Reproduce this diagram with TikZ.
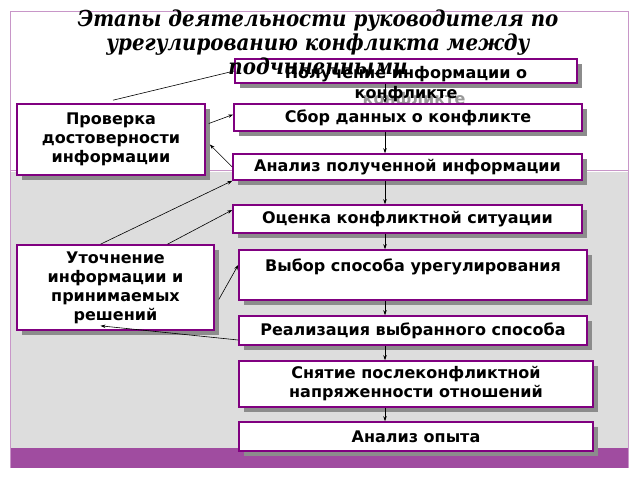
\documentclass[tikz,border=0pt]{standalone}
\usepackage{fontspec}
\setmainfont{DejaVu Sans}
\newfontfamily\titlefont{DejaVu Serif Condensed}
\usetikzlibrary{arrows.meta,shadows}

\definecolor{boxline}{RGB}{128,0,128}
\definecolor{frameline}{RGB}{200,150,200}
\definecolor{barfill}{RGB}{160,76,160}
\definecolor{panelfill}{RGB}{221,221,221}

\begin{document}
\begin{tikzpicture}[x=1pt,y=-1pt,
  stagebox/.style={draw=boxline,line width=1.6pt,fill=white,inner sep=0pt,
    drop shadow={shadow xshift=5pt,shadow yshift=-5pt,fill=black!45,opacity=1},
    font=\fontsize{16}{19}\selectfont\bfseries,align=center},
  boxtext/.style={font=\fontsize{16}{20}\selectfont\bfseries,align=center,inner sep=0pt},
  link/.style={-{Stealth[length=5pt,width=3.5pt]},line width=0.6pt}]
  \useasboundingbox (0,0) rectangle (640,480);
  \fill[white] (0,0) rectangle (640,480);
  \fill[panelfill] (10,172) rectangle (628,448);
  \fill[barfill] (10,448) rectangle (628,468);
  \draw[frameline] (10,468) -- (10,11) -- (628,11) -- (628,468);
  \draw[frameline] (10,170) -- (628,170);

  \coordinate (axis) at (385,0);

  \node[stagebox,minimum width=342pt,minimum height=24pt] (get) at (406,71) {};
  \node[boxtext,text=black!40] (getshade) at (414,100) {конфликте};
  \node[boxtext] (gettext) at (406,84) {Получение информации о\\конфликте};
  \node[stagebox,minimum width=348pt,minimum height=27pt] (collect) at (408,117.5) {Сбор данных о конфликте};
  \node[stagebox,minimum width=349pt,minimum height=26pt] (analyse) at (407.5,167) {Анализ полученной информации};
  \node[stagebox,minimum width=349pt,minimum height=28pt] (assess) at (407.5,219) {Оценка конфликтной ситуации};
  \node[stagebox,minimum width=348pt,minimum height=50pt] (choose) at (413,275) {Выбор способа урегулирования\\\mbox{}};
  \node[stagebox,minimum width=348pt,minimum height=29pt] (implement) at (413,330.5) {Реализация выбранного способа};
  \node[stagebox,minimum width=354pt,minimum height=46pt] (relieve) at (416,384) {Снятие послеконфликтной\\напряженности отношений};
  \node[stagebox,minimum width=354pt,minimum height=29pt] (review) at (416,436.5) {Анализ опыта};

  \node[stagebox,minimum width=188pt,minimum height=71pt] (check) at (111,139.5) {Проверка\\достоверности\\информации};
  \node[stagebox,minimum width=197pt,minimum height=85pt] (clarify) at (115.5,287.5) {Уточнение\\информации и\\принимаемых\\решений};

  \draw[link] (get.south -| axis) -- (collect.north -| axis);
  \draw[link] (collect.south -| axis) -- (analyse.north -| axis);
  \draw[link] (analyse.south -| axis) -- (assess.north -| axis);
  \draw[link] (assess.south -| axis) -- (choose.north -| axis);
  \draw[link] (choose.south -| axis) -- (implement.north -| axis);
  \draw[link] (implement.south -| axis) -- (relieve.north -| axis);
  \draw[link] (relieve.south -| axis) -- (review.north -| axis);

  \draw[line width=0.6pt] ([shift={(2,-3)}]check.north) -- (get.west);
  \draw[link] ([shift={(3,-16)}]check.east) -- ([yshift=3pt]collect.west);
  \draw[link] (analyse.west) -- ([shift={(4,5)}]check.east);
  \draw[link] ([xshift=-15pt]clarify.north) -- (analyse.south west);
  \draw[link] ([xshift=52pt]clarify.north) -- ([yshift=9pt]assess.west);
  \draw[link] ([shift={(4,12)}]clarify.east) -- ([yshift=10pt]choose.west);
  \draw[link] ([yshift=-9.5pt]implement.west) -- ([shift={(-15,-5)}]clarify.south);

  \node[font={\titlefont\fontsize{22}{24}\selectfont\bfseries\itshape},align=center,inner sep=0pt] (title) at (318,42)
    {Этапы деятельности руководителя по\\урегулированию конфликта между\\подчиненными};
\end{tikzpicture}
\end{document}
